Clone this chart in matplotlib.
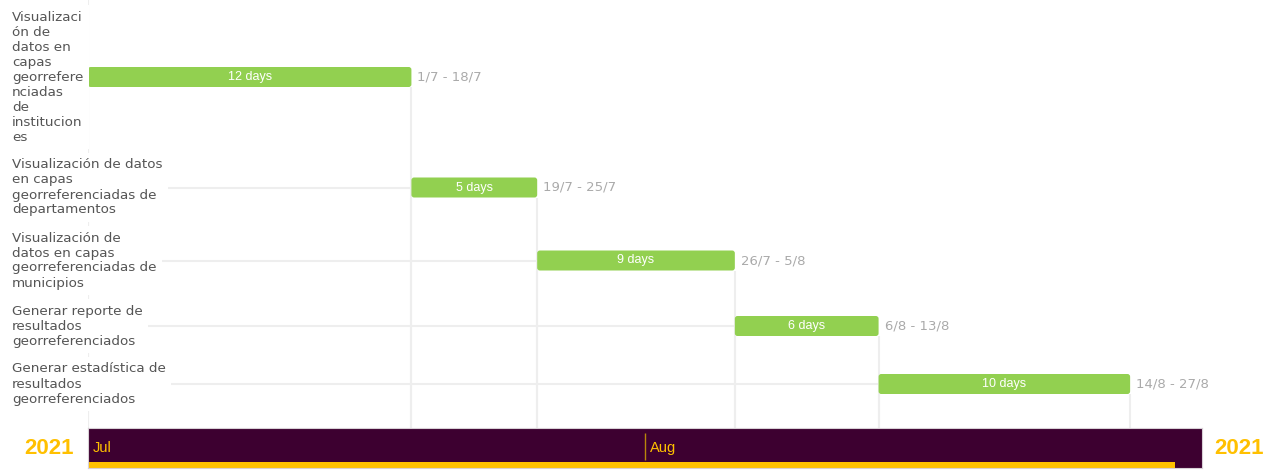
import pandas as pd
import matplotlib.pyplot as plt
import matplotlib.dates as mdates
from matplotlib.patches import FancyBboxPatch, Rectangle

# task data
tasks = [
    "Visualizaci\nón de\ndatos en\ncapas\ngeorrefere\nnciadas\nde\ninstitucion\nes",
    "Visualización de datos\nen capas\ngeorreferenciadas de\ndepartamentos",
    "Visualización de\ndatos en capas\ngeorreferenciadas de\nmunicipios",
    "Generar reporte de\nresultados\ngeorreferenciados",
    "Generar estadística de\nresultados\ngeorreferenciados",
]
starts = ["2021-07-01", "2021-07-19", "2021-07-26", "2021-08-06", "2021-08-14"]
ends = ["2021-07-18", "2021-07-25", "2021-08-05", "2021-08-13", "2021-08-27"]
work_days = [12, 5, 9, 6, 10]
months = ["2021-07-01", "2021-08-01"]
month_names = ["Jul", "Aug"]
range_start, range_end = "2021-07-01", "2021-09-01"

green = "#92d050"
purple = "#3d0030"
gold = "#ffc000"
grid = "#eeeeee"

start_d = pd.to_datetime(starts)
last_d = pd.to_datetime(ends)
end_d = last_d + pd.Timedelta(days=1)

fig = plt.figure(figsize=(12.66, 4.71), dpi=100)
ax = fig.add_axes([88 / 1266, 43 / 471, 1114 / 1266, 428 / 471])
band = fig.add_axes([88 / 1266, 3 / 471, 1114 / 1266, 40 / 471])

x0 = mdates.date2num(pd.Timestamp(range_start))
x1 = mdates.date2num(pd.Timestamp(range_end))
ax.set_xlim(x0, x1)
ax.set_ylim(428, 0)
ax.axis("off")

# row layout from number of label lines
line_h, pad, top = 15, 13, 3
centers = []
y = top
for t in tasks:
    h = len(t.split("\n")) * line_h + pad
    centers.append(y + h / 2)
    y += h

bar_h = 20
px_per_day = 1114 / (x1 - x0)
left_ext = x0 - 88 / px_per_day

ax.vlines(x0, 0, 428, color=grid, lw=1.5, zorder=0)
for i, t in enumerate(tasks):
    c = centers[i]
    s = mdates.date2num(start_d[i])
    e = mdates.date2num(end_d[i])
    if s > x0:
        ax.hlines(c, left_ext + 14 / px_per_day, s, color=grid, lw=1.5, zorder=0, clip_on=False)
    ax.vlines([s, e], c + bar_h / 2, 428, color=grid, lw=1.5, zorder=0)
    ax.add_patch(FancyBboxPatch((s, c - bar_h / 2), e - s, bar_h,
                                boxstyle="round,pad=0,rounding_size=0.15",
                                mutation_aspect=px_per_day, fc=green, ec="none", zorder=2))
    ax.text((s + e) / 2, c, f"{work_days[i]} days", color="white", ha="center", va="center",
            fontsize=9, family="Liberation Sans", zorder=3)
    ax.text(e + 6 / px_per_day, c,
            f"{start_d[i].day}/{start_d[i].month} - {last_d[i].day}/{last_d[i].month}",
            color="#aaaaaa", ha="left", va="center", fontsize=9.5, zorder=3)
    ax.text(left_ext + 12 / px_per_day, c, t, color="#555555", ha="left", va="center",
            fontsize=9.7, linespacing=1.2, clip_on=False, zorder=4,
            bbox=dict(fc="white", ec="none", pad=4))

# timeline band
band.set_xlim(x0, x1)
band.set_ylim(0, 1)
band.set_facecolor(purple)
band.set_xticks([])
band.set_yticks([])
for sp in band.spines.values():
    sp.set_color("#d8d0d6")
    sp.set_linewidth(0.8)
band.add_patch(Rectangle((0, 0), 1087 / 1114, 0.15, transform=band.transAxes,
                         fc=gold, ec="none"))
for k, m in enumerate(months):
    mx = mdates.date2num(pd.Timestamp(m))
    if k > 0:
        band.vlines(mx, 0.2, 0.875, color="#b8860b", lw=1)
    band.text(mx + 5 / px_per_day, 0.5, month_names[k], color=gold, fontsize=10.5,
              family="Liberation Sans", va="center", ha="left")

fig.text(49 / 1266, 1 - 448 / 471, "2021", color=gold, fontsize=16, fontweight="bold",
         family="Liberation Sans", ha="center", va="center")
fig.text(1239 / 1266, 1 - 448 / 471, "2021", color=gold, fontsize=16, fontweight="bold",
         family="Liberation Sans", ha="center", va="center")

fig.savefig("out.png", dpi=100)
